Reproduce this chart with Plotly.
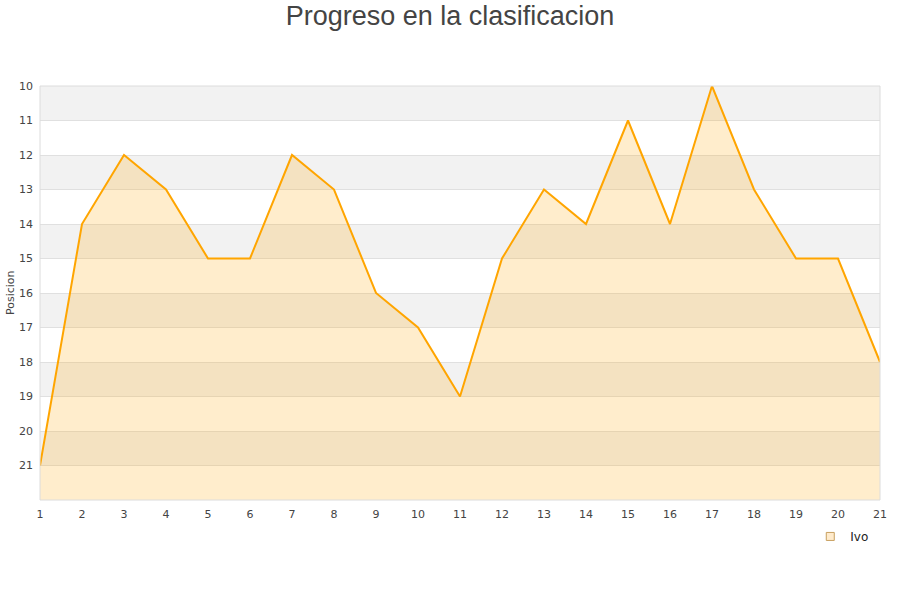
import plotly.graph_objects as go

jornadas = list(range(1, 22))
posiciones = [21, 14, 12, 13, 15, 15, 12, 13, 16, 17, 19, 15, 13, 14, 11, 14, 10, 13, 15, 15, 18]
y_ticks = list(range(10, 22))
jugador = "Ivo"

fig = go.Figure()
# baseline for the fill (bottom of the axis)
fig.add_trace(go.Scatter(x=jornadas, y=[22] * len(jornadas), mode="lines",
                         line=dict(width=0, color="rgba(0,0,0,0)"),
                         showlegend=False, hoverinfo="skip"))
fig.add_trace(go.Scatter(x=jornadas, y=posiciones, mode="lines", name=jugador,
                         line=dict(color="#ffa500", width=2),
                         fill="tonexty", fillcolor="rgba(255,165,0,0.2)",
                         showlegend=False))
# legend entry with a square swatch
fig.add_trace(go.Scatter(x=[None], y=[None], mode="markers", name=jugador,
                         marker=dict(symbol="square", size=8, color="#ffebcc",
                                     line=dict(color="#c8a060", width=1))))

shapes = []
for i in range(10, 22, 2):
    shapes.append(dict(type="rect", xref="paper", yref="y", x0=0, x1=1, y0=i, y1=i + 1,
                       fillcolor="#f2f2f2", line=dict(width=0), layer="below"))
shapes.append(dict(type="rect", xref="paper", yref="paper", x0=0, x1=1, y0=0, y1=1,
                   line=dict(color="#dcdcdc", width=1), fillcolor="rgba(0,0,0,0)", layer="above"))

fig.update_layout(
    width=900, height=600,
    paper_bgcolor="white", plot_bgcolor="white",
    margin=dict(l=40, r=20, t=86, b=100, autoexpand=False),
    title=dict(text="Progreso en la clasificacion", x=0.5, xanchor="center",
               y=0.974, yref="container", yanchor="middle",
               font=dict(family="Liberation Sans, Arial", size=27, color="#444444")),
    font=dict(family="DejaVu Sans", size=11, color="#444444"),
    shapes=shapes,
    showlegend=True,
    legend=dict(x=0.917, xanchor="left", y=-0.053, yanchor="top",
                bgcolor="rgba(0,0,0,0)", font=dict(size=12, color="#222222"),
                itemwidth=30),
    annotations=[dict(text="Posicion", xref="paper", yref="paper", x=-30 / 840, y=0.5,
                      xanchor="center", yanchor="middle", textangle=-90, showarrow=False,
                      font=dict(size=11, color="#444444"))],
)
fig.update_xaxes(range=[1, 21], tickmode="array", tickvals=jornadas, ticktext=[str(j) for j in jornadas],
                 showgrid=False, zeroline=False, showline=False, ticks="", automargin=False,
                 ticklabelstandoff=6, tickfont=dict(size=11, color="#444444"))
fig.update_yaxes(range=[22, 10], tickmode="array", tickvals=y_ticks, ticktext=[str(t) for t in y_ticks],
                 showgrid=True, gridcolor="#e0e0e0", gridwidth=1, zeroline=False, showline=False,
                 ticks="", automargin=False, ticklabelstandoff=6,
                 tickfont=dict(size=11, color="#444444"))

fig.write_html("out.html", config={"displayModeBar": False},
               post_script="document.body.style.margin='0';")
